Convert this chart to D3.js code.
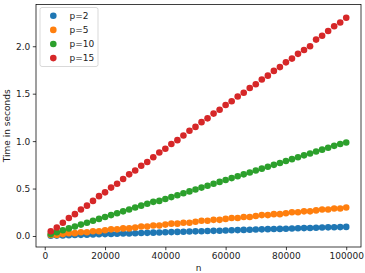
<!DOCTYPE html>
<html>
<head>
<meta charset="utf-8">
<script src="https://cdn.jsdelivr.net/npm/d3@7"></script>
<style>
  body { margin: 0; background: #fff; }
  svg { display: block; font-family: "DejaVu Sans", sans-serif; }
</style>
</head>
<body>
<svg id="chart" width="365" height="273"></svg>
<script>
// problem sizes
var n = [2000, 4000, 6000, 8000, 10000, 12000, 14000, 16000, 18000, 20000,
  22000, 24000, 26000, 28000, 30000, 32000, 34000, 36000, 38000, 40000,
  42000, 44000, 46000, 48000, 50000, 52000, 54000, 56000, 58000, 60000,
  62000, 64000, 66000, 68000, 70000, 72000, 74000, 76000, 78000, 80000,
  82000, 84000, 86000, 88000, 90000, 92000, 94000, 96000, 98000, 100000];

// timings
var p2 = [0.002, 0.004, 0.006, 0.008, 0.010, 0.012, 0.014, 0.016, 0.018, 0.020,
  0.022, 0.024, 0.026, 0.027, 0.029, 0.031, 0.033, 0.035, 0.037, 0.039,
  0.041, 0.043, 0.045, 0.047, 0.049, 0.050, 0.052, 0.054, 0.056, 0.058,
  0.060, 0.062, 0.064, 0.066, 0.068, 0.070, 0.072, 0.073, 0.075, 0.077,
  0.079, 0.081, 0.083, 0.085, 0.087, 0.089, 0.091, 0.092, 0.094, 0.096];
var p5 = [0.01, 0.01, 0.02, 0.03, 0.03, 0.04, 0.04, 0.05, 0.05, 0.06,
  0.07, 0.07, 0.08, 0.08, 0.09, 0.10, 0.10, 0.11, 0.11, 0.12,
  0.13, 0.13, 0.14, 0.14, 0.15, 0.16, 0.16, 0.17, 0.17, 0.18,
  0.19, 0.19, 0.20, 0.20, 0.21, 0.22, 0.22, 0.23, 0.23, 0.24,
  0.25, 0.25, 0.26, 0.26, 0.27, 0.28, 0.28, 0.29, 0.29, 0.30];
var p10 = [0.02, 0.04, 0.06, 0.08, 0.10, 0.12, 0.14, 0.16, 0.18, 0.20,
  0.22, 0.24, 0.26, 0.28, 0.30, 0.32, 0.34, 0.36, 0.37, 0.39,
  0.41, 0.43, 0.45, 0.47, 0.49, 0.51, 0.53, 0.55, 0.57, 0.59,
  0.61, 0.63, 0.65, 0.67, 0.69, 0.71, 0.73, 0.75, 0.77, 0.79,
  0.81, 0.83, 0.85, 0.87, 0.89, 0.91, 0.93, 0.95, 0.97, 0.985];
var p15 = [0.05, 0.09, 0.14, 0.19, 0.23, 0.28, 0.32, 0.37, 0.42, 0.46,
  0.51, 0.55, 0.60, 0.65, 0.69, 0.74, 0.78, 0.83, 0.88, 0.92,
  0.97, 1.01, 1.06, 1.11, 1.15, 1.20, 1.24, 1.29, 1.33, 1.38,
  1.42, 1.47, 1.51, 1.56, 1.60, 1.65, 1.69, 1.74, 1.78, 1.83,
  1.87, 1.92, 1.96, 2.00, 2.07, 2.11, 2.16, 2.21, 2.25, 2.30];

var labels = ["p=2", "p=5", "p=10", "p=15"];
var colors = ["#1f77b4", "#ff7f0e", "#2ca02c", "#d62728"];
var xTicks = [0, 20000, 40000, 60000, 80000, 100000];
var yTicks = [0.0, 0.5, 1.0, 1.5, 2.0];

var series = [p2, p5, p10, p15];

var svg = d3.select("#chart");
var margin = {left: 36, top: 4.5, right: 4, bottom: 26};
var width = 365 - margin.left - margin.right;
var height = 273 - margin.top - margin.bottom;

var g = svg.append("g")
  .attr("transform", "translate(" + margin.left + "," + margin.top + ")");

var x = d3.scaleLinear().domain([-2900, 104900]).range([0, width]);
var y = d3.scaleLinear().domain([-0.116, 2.44]).range([height, 0]);

// dots, first series underneath
series.forEach(function (vals, i) {
  g.append("g").selectAll("circle")
    .data(vals)
    .enter().append("circle")
    .attr("cx", function (d, j) { return x(n[j]); })
    .attr("cy", function (d) { return y(d); })
    .attr("r", 3.3)
    .style("fill", colors[i]);
});

// frame
g.append("rect")
  .attr("x", 0).attr("y", 0)
  .attr("width", width).attr("height", height)
  .style("fill", "none")
  .style("stroke", "#000")
  .style("stroke-width", 0.75);

var xAxis = d3.axisBottom(x).tickValues(xTicks).tickSize(3.2).tickPadding(2.5)
  .tickFormat(d3.format("d"));
var yAxis = d3.axisLeft(y).tickValues(yTicks).tickSize(3.2).tickPadding(2.5)
  .tickFormat(d3.format(".1f"));

var xg = g.append("g").attr("transform", "translate(0," + height + ")").call(xAxis);
var yg = g.append("g").call(yAxis);
[xg, yg].forEach(function (a) {
  a.select(".domain").remove();
  a.selectAll("line").style("stroke", "#000").style("stroke-width", 0.75);
  a.selectAll("text").style("font-size", "9px").style("fill", "#222")
    .style("font-family", "'DejaVu Sans', sans-serif");
});

svg.append("text")
  .attr("x", margin.left + width / 2)
  .attr("y", 271)
  .attr("text-anchor", "middle")
  .style("font-size", "9px").style("fill", "#222")
  .text("n");

svg.append("text")
  .attr("transform", "translate(10," + (margin.top + height / 2) + ") rotate(-90)")
  .attr("text-anchor", "middle")
  .style("font-size", "9px").style("fill", "#222")
  .text("Time in seconds");

// legend
var lg = g.append("g").attr("transform", "translate(4,3)");
lg.append("rect")
  .attr("width", 58).attr("height", 59).attr("rx", 2)
  .style("fill", "#fff").style("fill-opacity", 0.8)
  .style("stroke", "#ccc").style("stroke-width", 0.75);
labels.forEach(function (lab, i) {
  var row = lg.append("g").attr("transform", "translate(0," + (8.3 + i * 14.1) + ")");
  row.append("circle").attr("cx", 13.3).attr("cy", 0).attr("r", 3.3).style("fill", colors[i]);
  row.append("text").attr("x", 29.5).attr("y", 3.2)
    .style("font-size", "9px").style("fill", "#222").text(lab);
});
</script>
</body>
</html>
